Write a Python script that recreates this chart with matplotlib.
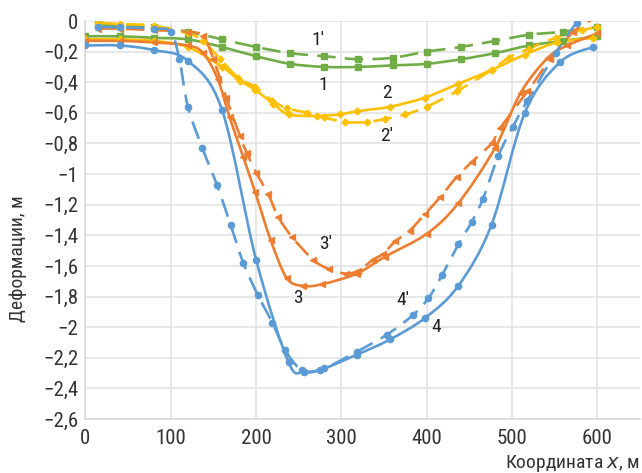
import numpy as np
import matplotlib
matplotlib.use("Agg")
import matplotlib.pyplot as plt
from matplotlib.path import Path
from matplotlib.patches import PathPatch
from matplotlib.ticker import FuncFormatter

plt.rcParams['font.family'] = ['Roboto Condensed', 'Liberation Sans Narrow', 'Roboto', 'DejaVu Sans']

# curve 1 / 1' (green)
x1 = [0, 40, 80, 120, 160, 200, 240, 280, 320, 360, 400, 440, 480, 520, 560, 600]
y1 = [-0.10, -0.10, -0.11, -0.12, -0.17, -0.23, -0.28, -0.30, -0.30, -0.29, -0.28, -0.25, -0.21, -0.16, -0.13, -0.10]
x1p = [15, 40, 80, 120, 160, 200, 240, 280, 320, 360, 400, 440, 480, 520, 560, 600]
y1p = [-0.02, -0.03, -0.04, -0.07, -0.12, -0.17, -0.21, -0.23, -0.25, -0.24, -0.20, -0.17, -0.13, -0.09, -0.07, -0.04]

# curve 2 / 2' (yellow)
x2 = [0, 40, 80, 120, 160, 181, 199, 220, 238, 271, 298, 318, 357, 398, 437, 476, 515, 553, 595]
y2 = [-0.12, -0.12, -0.13, -0.17, -0.30, -0.39, -0.45, -0.54, -0.61, -0.62, -0.61, -0.59, -0.56, -0.50, -0.41, -0.32, -0.22, -0.14, -0.11]
x2p = [15, 40, 80, 120, 138, 158, 179, 199, 219, 236, 260, 280, 304, 330, 351, 375, 400, 435, 476, 496, 520, 551, 582, 600]
y2p = [-0.01, -0.02, -0.03, -0.08, -0.13, -0.25, -0.37, -0.43, -0.52, -0.57, -0.60, -0.63, -0.66, -0.66, -0.64, -0.61, -0.56, -0.46, -0.32, -0.24, -0.18, -0.11, -0.06, -0.04]

# curve 3 / 3' (orange)
x3 = [0, 40, 80, 120, 138, 155, 169, 185, 199, 217, 236, 255, 277, 318, 351, 400, 437, 480, 510, 542, 565, 600]
y3 = [-0.13, -0.13, -0.14, -0.16, -0.21, -0.38, -0.63, -0.89, -1.12, -1.43, -1.68, -1.73, -1.72, -1.65, -1.54, -1.39, -1.19, -0.83, -0.47, -0.24, -0.16, -0.08]
x3p = [15, 40, 80, 120, 138, 150, 165, 181, 189, 200, 214, 226, 242, 267, 285, 305, 320, 337, 349, 363, 380, 398, 416, 435, 453, 476, 486, 518, 545, 572, 600]
y3p = [-0.05, -0.05, -0.06, -0.07, -0.10, -0.25, -0.50, -0.75, -0.86, -0.99, -1.13, -1.28, -1.41, -1.56, -1.62, -1.65, -1.63, -1.56, -1.52, -1.44, -1.37, -1.26, -1.15, -1.02, -0.92, -0.80, -0.70, -0.46, -0.25, -0.07, 0.03]

# curve 4 / 4' (blue)
x4 = [0, 40, 80, 120, 160, 200, 238, 256, 275, 318, 357, 398, 437, 476, 515, 556, 595]
y4 = [-0.16, -0.16, -0.19, -0.26, -0.58, -1.56, -2.23, -2.29, -2.28, -2.18, -2.08, -1.94, -1.73, -1.33, -0.60, -0.27, -0.17]
x4p = [15, 40, 80, 100, 110, 120, 137, 154, 170, 185, 202, 219, 234, 254, 279, 318, 353, 384, 402, 418, 437, 453, 466, 484, 501, 518, 551, 576, 590]
y4p = [-0.04, -0.04, -0.05, -0.07, -0.25, -0.56, -0.83, -1.07, -1.33, -1.58, -1.79, -1.97, -2.15, -2.28, -2.27, -2.16, -2.05, -1.92, -1.81, -1.66, -1.46, -1.31, -1.16, -0.88, -0.69, -0.52, -0.21, -0.01, 0.05]

labels = ["1'", "1", "2", "2'", "3'", "3", "4'", "4"]
label_x = [273, 279, 353, 353, 281, 249, 372, 411]
label_y = [-0.125, -0.42, -0.47, -0.75, -1.46, -1.81, -1.82, -2.0]

GREEN = "#70AD47"
YELLOW = "#FFC000"
ORANGE = "#ED7D31"
BLUE = "#5B9BD5"


def smooth_path(x, y):
    # Excel-like smoothed line: Catmull-Rom segments as cubic Bezier
    p = np.column_stack([x, y]).astype(float)
    ext = np.vstack([p[0], p, p[-1]])
    verts = [p[0]]
    codes = [Path.MOVETO]
    for i in range(len(p) - 1):
        a, b, c, d = ext[i], ext[i + 1], ext[i + 2], ext[i + 3]
        verts += [b + (c - a) / 6, c - (d - b) / 6, c]
        codes += [Path.CURVE4] * 3
    return Path(verts, codes)


def draw(ax, x, y, color, marker, dashed, ms):
    ls = (0, (7, 3.5)) if dashed else '-'
    ax.add_patch(PathPatch(smooth_path(x, y), fill=False, edgecolor=color,
                           lw=1.9, linestyle=ls, capstyle='butt', zorder=3))
    ax.plot(x, y, linestyle='none', marker=marker, ms=ms, color=color, zorder=4)


fig = plt.figure(figsize=(6.42, 4.73), dpi=100)
ax = fig.add_axes([85.5 / 642, 1 - 419 / 473, (640 - 85.5) / 642, (419 - 21) / 473])

draw(ax, x1, y1, GREEN, 's', False, 4)
draw(ax, x1p, y1p, GREEN, 's', True, 4)
draw(ax, x2, y2, YELLOW, 'D', False, 3.5)
draw(ax, x2p, y2p, YELLOW, 'D', True, 3.5)
draw(ax, x3, y3, ORANGE, '<', False, 4)
draw(ax, x3p, y3p, ORANGE, '<', True, 4)
draw(ax, x4, y4, BLUE, 'o', False, 4.5)
draw(ax, x4p, y4p, BLUE, 'o', True, 4.5)

for t, tx, ty in zip(labels, label_x, label_y):
    ax.text(tx, ty, t, fontsize=14, color="#222222", ha='center', va='center', zorder=5)

ax.set_xlim(0, 650)
ax.set_ylim(-2.6, 0)
ax.set_xticks(np.arange(0, 601, 100))
ax.set_yticks(np.round(np.arange(-2.6, 0.01, 0.2), 1))


def yfmt(v, pos):
    if abs(v) < 1e-9:
        return "0"
    s = ("%.1f" % abs(v)).rstrip('0').rstrip('.').replace('.', ',')
    return "\u2212" + s


ax.yaxis.set_major_formatter(FuncFormatter(yfmt))
ax.grid(True, color="#e3e3e3", lw=1.2)
ax.set_axisbelow(True)
for s in ['top', 'right']:
    ax.spines[s].set_visible(False)
for s in ['left', 'bottom']:
    ax.spines[s].set_color("#d9d9d9")
    ax.spines[s].set_linewidth(1.2)
ax.tick_params(length=0, labelsize=15, labelcolor="#333333")
ax.tick_params(axis='x', pad=7)
ax.tick_params(axis='y', pad=5)

fig.text(18 / 642, 1 - 259 / 473, "Деформации, м", rotation=90, ha='center', va='center',
         fontsize=14, color="#333333")
fig.text(640 / 642, 1 - 463 / 473, "Координата $\\it{x}$, м", ha='right', va='center',
         fontsize=14, color="#333333")

fig.savefig("out.png", dpi=100)
